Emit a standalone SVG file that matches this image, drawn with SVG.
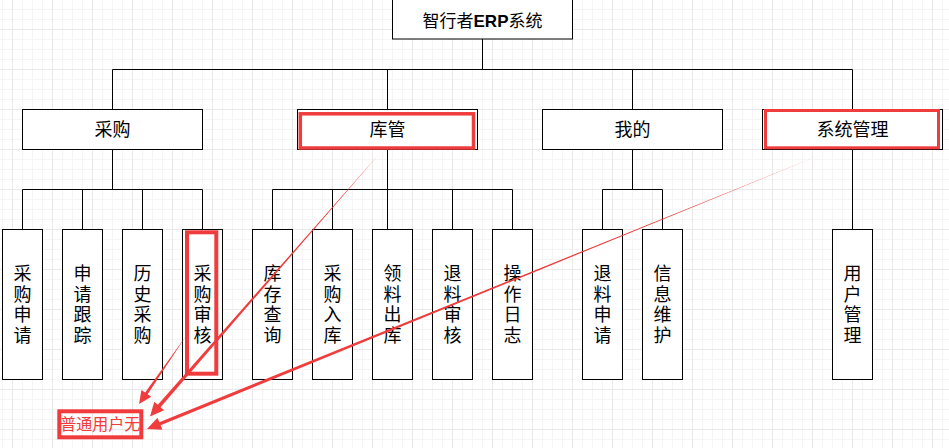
<svg xmlns="http://www.w3.org/2000/svg" width="949" height="448" viewBox="0 0 949 448">
  <defs>
    <pattern id="grid" patternUnits="userSpaceOnUse" x="12" y="29" width="40" height="40">
      <rect x="0" y="0" width="40" height="40" fill="#ffffff"/>
      <rect x="10" y="0" width="1" height="40" fill="#f5f5f5"/>
      <rect x="20" y="0" width="1" height="40" fill="#f5f5f5"/>
      <rect x="30" y="0" width="1" height="40" fill="#f5f5f5"/>
      <rect x="0" y="10" width="40" height="1" fill="#f5f5f5"/>
      <rect x="0" y="20" width="40" height="1" fill="#f5f5f5"/>
      <rect x="0" y="30" width="40" height="1" fill="#f5f5f5"/>
      <rect x="0" y="0" width="1" height="40" fill="#e9e9e9"/>
      <rect x="0" y="0" width="40" height="1" fill="#e9e9e9"/>
    </pattern>
    <style>
      .box { fill: #ffffff; stroke: #000000; stroke-width: 1; }
      .wire { fill: none; stroke: #000000; stroke-width: 1; }
      .lbl { font-family: "Liberation Sans", "Noto Sans CJK SC", sans-serif; font-size: 18px; fill: #000000; text-anchor: middle; }
      .title { font-size: 17px; }
      .mark { fill: none; stroke: #f03c3c; }
      .arrow { fill: #f03c3c; stroke: none; }
      .note { font-family: "Liberation Sans", "Noto Sans CJK SC", sans-serif; font-size: 16px; fill: #f03c3c; text-anchor: middle; }
    </style>
  </defs>

  <!-- canvas grid -->
  <rect x="0" y="0" width="949" height="448" fill="url(#grid)"/>

  <!-- tree connectors -->
  <g id="connectors">
    <path class="wire" d="M482.5 39 V69.5 M112.5 69.5 H852.5 M112.5 69.5 V109.5 M387.5 69.5 V109.5 M632.5 69.5 V109.5 M852.5 69.5 V109.5"/>
    <path class="wire" d="M112.5 149.5 V189.5 M22.5 189.5 H202.5 M22.5 189.5 V229.5 M82.5 189.5 V229.5 M142.5 189.5 V229.5 M202.5 189.5 V229.5"/>
    <path class="wire" d="M387.5 149.5 V229.5 M272.5 189.5 H512.5 M272.5 189.5 V229.5 M332.5 189.5 V229.5 M452.5 189.5 V229.5 M512.5 189.5 V229.5"/>
    <path class="wire" d="M632.5 149.5 V189.5 M602.5 189.5 H662.5 M602.5 189.5 V229.5 M662.5 189.5 V229.5"/>
    <path class="wire" d="M852.5 149.5 V229.5"/>
  </g>

  <!-- root -->
  <g id="root">
    <rect class="box" x="392.5" y="-1" width="180" height="40"/>
    <text class="lbl title" x="482.5" y="26.5">智行者<tspan font-weight="bold">ERP</tspan>系统</text>
  </g>

  <!-- second level -->
  <g id="purchase">
    <rect class="box" x="22.5" y="109.5" width="180" height="40"/>
    <text class="lbl" x="112.5" y="136">采购</text>
  </g>
  <g id="warehouse">
    <rect class="box" x="297.5" y="109.5" width="180" height="40"/>
    <text class="lbl" x="387.5" y="136">库管</text>
  </g>
  <g id="mine">
    <rect class="box" x="542.5" y="109.5" width="180" height="40"/>
    <text class="lbl" x="632.5" y="136">我的</text>
  </g>
  <g id="system">
    <rect class="box" x="762.5" y="109.5" width="180" height="40"/>
    <text class="lbl" x="852.5" y="136">系统管理</text>
  </g>

  <!-- leaf modules: one character per line -->
  <g id="purchase-apply">
    <rect class="box" x="2.5" y="229.5" width="40" height="150"/>
    <text class="lbl"><tspan x="22.5" y="280">采</tspan><tspan x="22.5" y="300.6">购</tspan><tspan x="22.5" y="321.2">申</tspan><tspan x="22.5" y="341.8">请</tspan></text>
  </g>
  <g id="apply-track">
    <rect class="box" x="62.5" y="229.5" width="40" height="150"/>
    <text class="lbl"><tspan x="82.5" y="280">申</tspan><tspan x="82.5" y="300.6">请</tspan><tspan x="82.5" y="321.2">跟</tspan><tspan x="82.5" y="341.8">踪</tspan></text>
  </g>
  <g id="purchase-history">
    <rect class="box" x="122.5" y="229.5" width="40" height="150"/>
    <text class="lbl"><tspan x="142.5" y="280">历</tspan><tspan x="142.5" y="300.6">史</tspan><tspan x="142.5" y="321.2">采</tspan><tspan x="142.5" y="341.8">购</tspan></text>
  </g>
  <g id="purchase-review">
    <rect class="box" x="182.5" y="229.5" width="40" height="150"/>
    <text class="lbl"><tspan x="202.5" y="280">采</tspan><tspan x="202.5" y="300.6">购</tspan><tspan x="202.5" y="321.2">审</tspan><tspan x="202.5" y="341.8">核</tspan></text>
  </g>
  <g id="stock-query">
    <rect class="box" x="252.5" y="229.5" width="40" height="150"/>
    <text class="lbl"><tspan x="272.5" y="280">库</tspan><tspan x="272.5" y="300.6">存</tspan><tspan x="272.5" y="321.2">查</tspan><tspan x="272.5" y="341.8">询</tspan></text>
  </g>
  <g id="stock-in">
    <rect class="box" x="312.5" y="229.5" width="40" height="150"/>
    <text class="lbl"><tspan x="332.5" y="280">采</tspan><tspan x="332.5" y="300.6">购</tspan><tspan x="332.5" y="321.2">入</tspan><tspan x="332.5" y="341.8">库</tspan></text>
  </g>
  <g id="stock-out">
    <rect class="box" x="372.5" y="229.5" width="40" height="150"/>
    <text class="lbl"><tspan x="392.5" y="280">领</tspan><tspan x="392.5" y="300.6">料</tspan><tspan x="392.5" y="321.2">出</tspan><tspan x="392.5" y="341.8">库</tspan></text>
  </g>
  <g id="return-review">
    <rect class="box" x="432.5" y="229.5" width="40" height="150"/>
    <text class="lbl"><tspan x="452.5" y="280">退</tspan><tspan x="452.5" y="300.6">料</tspan><tspan x="452.5" y="321.2">审</tspan><tspan x="452.5" y="341.8">核</tspan></text>
  </g>
  <g id="op-log">
    <rect class="box" x="492.5" y="229.5" width="40" height="150"/>
    <text class="lbl"><tspan x="512.5" y="280">操</tspan><tspan x="512.5" y="300.6">作</tspan><tspan x="512.5" y="321.2">日</tspan><tspan x="512.5" y="341.8">志</tspan></text>
  </g>
  <g id="return-apply">
    <rect class="box" x="582.5" y="229.5" width="40" height="150"/>
    <text class="lbl"><tspan x="602.5" y="280">退</tspan><tspan x="602.5" y="300.6">料</tspan><tspan x="602.5" y="321.2">申</tspan><tspan x="602.5" y="341.8">请</tspan></text>
  </g>
  <g id="info-maint">
    <rect class="box" x="642.5" y="229.5" width="40" height="150"/>
    <text class="lbl"><tspan x="662.5" y="280">信</tspan><tspan x="662.5" y="300.6">息</tspan><tspan x="662.5" y="321.2">维</tspan><tspan x="662.5" y="341.8">护</tspan></text>
  </g>
  <g id="user-admin">
    <rect class="box" x="832.5" y="229.5" width="40" height="150"/>
    <text class="lbl"><tspan x="852.5" y="280">用</tspan><tspan x="852.5" y="300.6">户</tspan><tspan x="852.5" y="321.2">管</tspan><tspan x="852.5" y="341.8">理</tspan></text>
  </g>

  <!-- red highlight frames -->
  <g id="highlights">
    <rect class="mark" x="300.3" y="113.8" width="173.2" height="34.2" stroke-width="3.5"/>
    <rect class="mark" x="765.5" y="110.5" width="173" height="37.3" stroke-width="3"/>
    <rect class="mark" x="187" y="232.3" width="29.3" height="141.4" stroke-width="4"/>
  </g>

  <!-- note -->
  <g id="note">
    <rect class="mark" x="59.3" y="411.3" width="82" height="26" stroke-width="4"/>
    <text class="note" x="100.3" y="430.3">普通用户无</text>
  </g>

  <!-- tapered pointers to the note -->
  <g id="pointers">
    <polygon class="arrow" points="380,153 160.56,407.13 164.1,410.2 150,416.5 154.3,401.7 157.84,404.77"/>
    <polygon class="arrow" points="186,336 147.62,394.16 151.33,396.72 139,404 141.45,389.9 145.16,392.46"/>
    <polygon class="arrow" points="820,155 160.61,425.3 162.42,429.74 147,429 157.52,417.7 159.33,422.15"/>
  </g>
</svg>
